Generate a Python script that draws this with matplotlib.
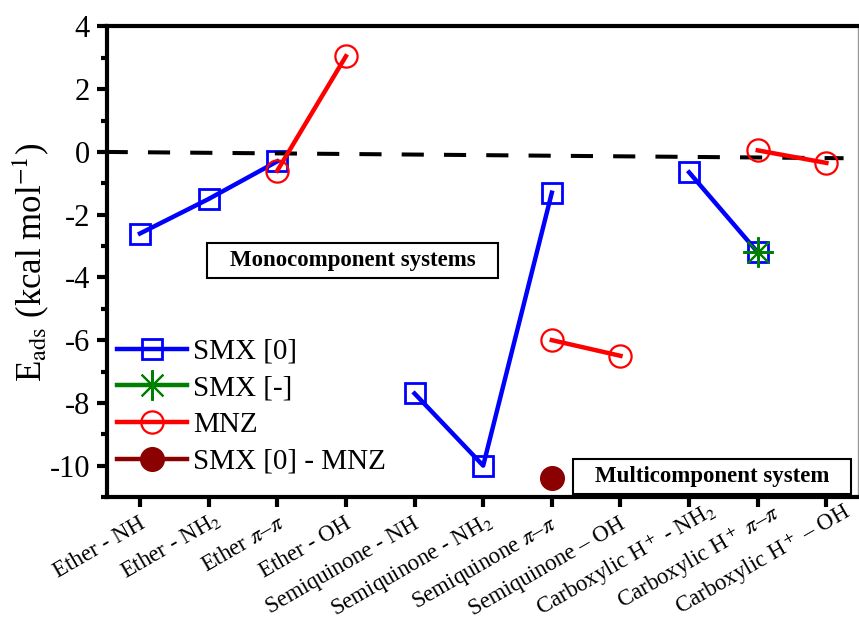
import numpy as np
import matplotlib.pyplot as plt
from matplotlib.lines import Line2D
from matplotlib.patches import Rectangle
from matplotlib.transforms import ScaledTranslation

plt.rcParams['font.family'] = ['Liberation Serif', 'DejaVu Serif']
plt.rcParams['mathtext.fontset'] = 'stix'
plt.rcParams['axes.unicode_minus'] = False

# adsorption sites
sites = ['Ether - NH', 'Ether - NH$_2$', r'Ether $\pi$–$\pi$', 'Ether - OH',
         'Semiquinone - NH', 'Semiquinone - NH$_2$', r'Semiquinone $\pi$–$\pi$',
         'Semiquinone – OH', 'Carboxylic H$^+$ - NH$_2$',
         r'Carboxylic H$^+$ $\pi$–$\pi$', 'Carboxylic H$^+$ – OH']

# adsorption energies (kcal/mol), nan = not computed
smx0 = [-2.6, -1.5, -0.3, np.nan, -7.7, -10.0, -1.3, np.nan, -0.65, -3.2, np.nan]
smx_neg = [np.nan, np.nan, np.nan, np.nan, np.nan, np.nan, np.nan, np.nan, np.nan, -3.2, np.nan]
mnz = [np.nan, np.nan, -0.6, 3.05, np.nan, np.nan, -6.0, -6.5, np.nan, 0.05, -0.35]
smx0_mnz = [np.nan, np.nan, np.nan, np.nan, np.nan, np.nan, -10.4, np.nan, np.nan, np.nan, np.nan]

# reference line
ref_x = [-0.5, 10.25]
ref_y = [0.0, -0.2]

x = np.arange(len(sites))

fig = plt.figure(figsize=(8.59, 6.30), dpi=100)
ax = fig.add_axes([0.1242, 0.2111, 0.8746, 0.7469])

star = (8, 2, 0)
ax.plot(x, smx0, color='blue', lw=3.2, marker='s', ms=14, mfc='none', mec='blue', mew=2, zorder=3)
ax.plot(ref_x, ref_y, color='black', lw=2.9, ls=(0, (5.5, 5)), zorder=4)
ax.plot(x, smx_neg, color='green', lw=0, marker=star, ms=22, mec='green', mew=1.5, zorder=5)
ax.plot(x, mnz, color='red', lw=3.2, marker='o', ms=16, mfc='none', mec='red', mew=1.6, zorder=5)
ax.plot(x, smx0_mnz, color='#8B0000', lw=0, marker='o', ms=17, zorder=5)

ax.set_xlim(-0.485, 10.46)
ax.set_ylim(-11, 4)
ax.set_yticks(np.arange(-10, 5, 2))
ax.set_yticks(np.arange(-11, 4, 2), minor=True)
ax.set_xticks(x)
ax.set_xticklabels(sites, rotation=30, ha='right', va='baseline', rotation_mode='anchor', fontsize=16.5)
ax.tick_params(axis='y', which='major', direction='out', length=7, width=3, labelsize=22, pad=5)
ax.tick_params(axis='y', which='minor', direction='out', length=4, width=3)
ax.tick_params(axis='x', which='major', direction='out', length=7, width=3, pad=6)

# shift rotated labels below the ticks; labels with sub/superscripts slide further along their baseline
extra = [0, 9, 3, 0, 0, 5, 0, 0, 26, 21, 23]  # px along the 30 deg baseline
ang = np.deg2rad(30)
for lab, s in zip(ax.get_xticklabels(), extra):
    dx = 0.06 + s * np.cos(ang) / 100
    dy = -0.12 + s * np.sin(ang) / 100
    lab.set_transform(lab.get_transform() + ScaledTranslation(dx, dy, fig.dpi_scale_trans))

for s in ['left', 'bottom', 'top']:
    ax.spines[s].set_linewidth(3)
ax.spines['right'].set_linewidth(1)
ax.spines['right'].set_color('#999999')

ax.set_ylabel(r'E$_{\rm ads}$ (kcal mol$^{-1}$)', fontsize=25)
ax.yaxis.set_label_coords(-0.074, 0.5)

handles = [
    Line2D([], [], color='blue', lw=3.2, marker='s', ms=14, mfc='none', mec='blue', mew=2),
    Line2D([], [], color='green', lw=3.2, marker=star, ms=22, mec='green', mew=1.5),
    Line2D([], [], color='red', lw=3.2, marker='o', ms=16, mfc='none', mec='red', mew=1.6),
    Line2D([], [], color='#8B0000', lw=3.2, marker='o', ms=17),
]
labels = ['SMX [0]', 'SMX [-]', 'MNZ', 'SMX [0] - MNZ']
ax.legend(handles, labels, loc='upper left', bbox_to_anchor=(0.0137, 0.337),
          frameon=False, fontsize=21, handlelength=2.4, handletextpad=0.2,
          labelspacing=0.35, borderpad=0, borderaxespad=0)

# framed annotations
ax.add_patch(Rectangle((0.1335, 0.4655), 0.3873, 0.0743, transform=ax.transAxes,
                       fc='white', ec='black', lw=1.5, zorder=6))
ax.text(0.3272, 0.5027, 'Monocomponent systems', transform=ax.transAxes, fontsize=16.5,
        fontweight='bold', ha='center', va='center', zorder=7)
ax.add_patch(Rectangle((0.6206, 0.0064), 0.37, 0.0744, transform=ax.transAxes,
                       fc='white', ec='black', lw=1.5, zorder=6))
ax.text(0.8057, 0.0436, 'Multicomponent system', transform=ax.transAxes, fontsize=16.5,
        fontweight='bold', ha='center', va='center', zorder=7)

fig.savefig('out.png', dpi=100)
